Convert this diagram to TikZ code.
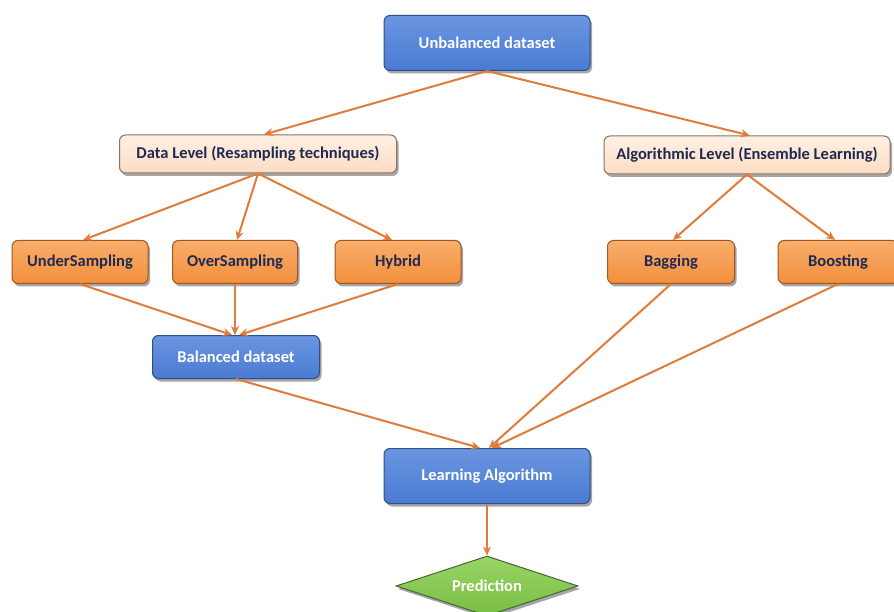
\documentclass[tikz,border=0pt]{standalone}
\usepackage{fontspec}
\setmainfont{Carlito}
\usetikzlibrary{shapes.geometric,shadows,arrows.meta}
\definecolor{bluefill}{HTML}{4A7BD2}
\definecolor{bluetop}{HTML}{6A95E0}
\definecolor{blueedge}{HTML}{2E4E8C}
\definecolor{peachfill}{HTML}{FCDCC2}
\definecolor{peachtop}{HTML}{FEF0E4}
\definecolor{peachedge}{HTML}{8C7462}
\definecolor{orangefill}{HTML}{F38F3C}
\definecolor{orangetop}{HTML}{F8AE6C}
\definecolor{orangeedge}{HTML}{A0561E}
\definecolor{greenfill}{HTML}{78BE42}
\definecolor{greentop}{HTML}{9AD468}
\definecolor{greenedge}{HTML}{3E6A2C}
\definecolor{navytext}{HTML}{1F2A52}
\definecolor{linkcol}{HTML}{E07B3A}
\tikzset{
  boxbase/.style={rounded corners=6pt, draw, line width=1pt, align=center,
    font=\fontsize{16.5}{18}\selectfont\bfseries,
    drop shadow={shadow xshift=2pt, shadow yshift=-3pt, fill=black, opacity=0.35}},
  bluebox/.style={boxbase, top color=bluetop, bottom color=bluefill, draw=blueedge,
    text=white, minimum width=206pt, minimum height=55pt},
  peachbox/.style={boxbase, top color=peachtop, bottom color=peachfill, draw=peachedge,
    text=navytext, minimum height=38pt},
  orangebox/.style={boxbase, top color=orangetop, bottom color=orangefill, draw=orangeedge,
    text=navytext, minimum width=127pt, minimum height=43pt},
  smallblue/.style={bluebox, minimum width=167pt, minimum height=43pt},
  decision/.style={diamond, draw=greenedge, line width=1pt, top color=greentop,
    bottom color=greenfill, text=white, aspect=3.1, inner sep=0pt,
    minimum width=182pt, minimum height=60pt,
    font=\fontsize{16.5}{18}\selectfont\bfseries,
    drop shadow={shadow xshift=2pt, shadow yshift=-3pt, fill=black, opacity=0.35}},
  link/.style={draw=linkcol, line width=2pt, -{Stealth[length=9pt,width=8pt]}}
}
\begin{document}
\begin{tikzpicture}[x=1pt,y=-1pt]
\useasboundingbox[fill=white] (0,0) rectangle (894,612);

% top level
\node[bluebox] (ub) at (487,43) {Unbalanced dataset};

% strategy level
\node[peachbox, minimum width=277pt] (dl) at (258,154) {Data Level (Resampling techniques)};
\node[peachbox, minimum width=286pt] (al) at (747,155) {Algorithmic Level (Ensemble Learning)};

% techniques
\node[orangebox, minimum width=136pt] (us) at (80,262) {UnderSampling};
\node[orangebox, minimum width=125pt] (os) at (235,262) {OverSampling};
\node[orangebox, minimum width=126pt] (hy) at (398,262) {Hybrid};
\node[orangebox] (bg) at (671,262) {Bagging};
\node[orangebox, minimum width=120pt] (bs) at (838,262) {Boosting};

% balanced data and learner
\node[smallblue] (bd) at (236,357) {Balanced dataset};
\node[bluebox] (la) at (487,476) {Learning Algorithm};

% output
\node[decision] (pr) at (487,586) {Prediction};

% connectors
\draw[link] (ub.south) -- ([xshift=6pt]dl.north);
\draw[link] (ub.south) -- ([xshift=3pt]al.north);
\draw[link] (dl.south) -- ([xshift=3pt]us.north);
\draw[link] (dl.south) -- ([xshift=2pt]os.north);
\draw[link] (dl.south) -- ([xshift=-6pt]hy.north);
\draw[link] (al.south) -- ([xshift=2pt]bg.north);
\draw[link] (al.south) -- ([xshift=-3pt]bs.north);
\draw[link] (us.south) -- ([xshift=-4pt]bd.north);
\draw[link] (os.south) -- ([xshift=-1pt]bd.north);
\draw[link] (hy.south) -- ([xshift=3pt]bd.north);
\draw[link] (bd.south) -- ([xshift=-7pt]la.north);
\draw[link] (bg.south) -- ([xshift=2pt]la.north);
\draw[link] (bs.south) -- ([xshift=5pt]la.north);
\draw[link] (la.south) -- (pr.north);
\end{tikzpicture}
\end{document}
